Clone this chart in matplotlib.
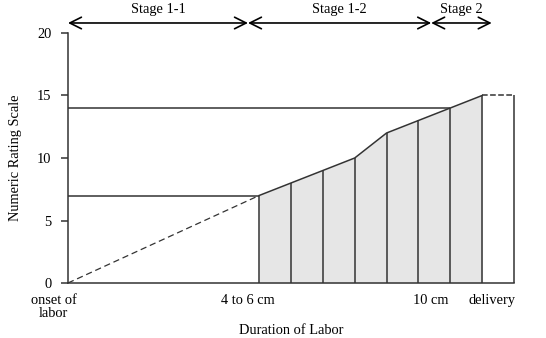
import matplotlib.pyplot as plt

plt.rcParams['font.family'] = ['Liberation Serif', 'DejaVu Serif']
plt.rcParams['font.size'] = 10.4

# pain score at each interval of labor (x = interval index)
steps = [6, 7, 8, 9, 10, 11, 12, 13]
nrs = [7, 8, 9, 10, 12, 13, 14, 15]
delivery_x = 14

stage_names = ['Stage 1-1', 'Stage 1-2', 'Stage 2']
stage_bounds = [0, 5.65, 11.4, 13.3]
x_labels = ['onset of\nlabor', '4 to 6 cm', '10 cm', 'delivery']
x_label_pos = [-0.45, 5.65, 11.4, 13.3]

fig = plt.figure(figsize=(5.46, 3.38), dpi=100)
ax = fig.add_axes([0.1245, 0.1627, 0.8169, 0.7397])

lc = '#333333'
ax.fill_between(steps, 0, nrs, color='#e6e6e6', lw=0)
ax.plot(steps, nrs, color=lc, lw=1.1)
ax.vlines(steps, 0, nrs, color=lc, lw=1.1)
ax.vlines(delivery_x, 0, nrs[-1], color=lc, lw=1.1, clip_on=False)
ax.plot([steps[-1], delivery_x], [nrs[-1], nrs[-1]], color=lc, lw=1.1, ls='--')

# dashed rise from onset, reference lines to the y axis
ax.plot([0, steps[0]], [0, nrs[0]], color=lc, lw=0.9, ls=(0, (5, 3)))
ax.hlines(nrs[0], 0, steps[0], color=lc, lw=1.1)
ax.hlines(nrs[-2], 0, steps[-2], color=lc, lw=1.1)

ax.set_xlim(0, 14)
ax.set_ylim(0, 20)
ax.set_yticks([0, 5, 10, 15, 20])
ax.set_xticks([])
ax.spines['top'].set_visible(False)
ax.spines['right'].set_visible(False)
for s in ['left', 'bottom']:
    ax.spines[s].set_color(lc)
    ax.spines[s].set_linewidth(1.1)
ax.tick_params(axis='y', direction='out', length=5, width=1.1, color=lc, pad=7)
ax.set_ylabel('Numeric Rating Scale', labelpad=11)

for pos, lab in zip(x_label_pos, x_labels):
    ax.text(pos, -0.9, lab, ha='center', va='top', linespacing=0.95)
ax.text(7, -3.8, 'Duration of Labor', ha='center', va='center')

for i, name in enumerate(stage_names):
    a, b = stage_bounds[i], stage_bounds[i + 1]
    ax.annotate('', xy=(a, 20.8), xytext=(b, 20.8), annotation_clip=False,
                arrowprops=dict(arrowstyle='<->,head_length=0.8,head_width=0.4',
                                color='black', lw=1.2, shrinkA=0, shrinkB=0))
    ax.text((a + b) / 2, 21.35, name, ha='center', va='bottom')

fig.savefig('out.png', dpi=100)
